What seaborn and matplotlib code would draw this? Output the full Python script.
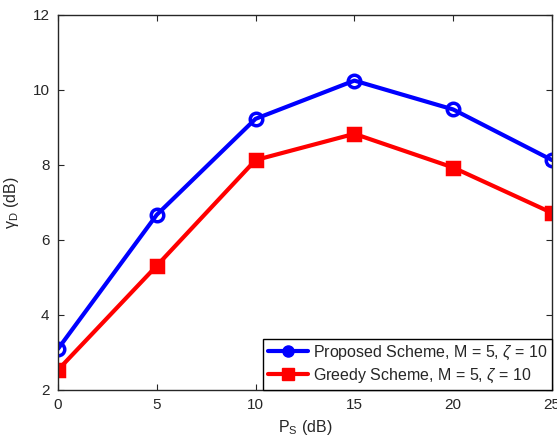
import pandas as pd
import matplotlib
matplotlib.use('Agg')
import matplotlib.pyplot as plt
import seaborn as sns
from matplotlib.lines import Line2D

# veriler
ps_db = [0, 5, 10, 15, 20, 25]
proposed = [3.09, 6.67, 9.23, 10.25, 9.48, 8.13]
greedy = [2.53, 5.31, 8.13, 8.83, 7.93, 6.72]
labels = ['Proposed Scheme, M = 5, $\\zeta$ = 10', 'Greedy Scheme, M = 5, $\\zeta$ = 10']
colors = ['#0000ff', '#ff0000']

df = pd.DataFrame({
    'Ps': ps_db * 2,
    'gamma': proposed + greedy,
    'scheme': [labels[0]] * len(ps_db) + [labels[1]] * len(ps_db),
})

sns.set_style('ticks')
plt.rcParams['font.family'] = ['Liberation Sans', 'DejaVu Sans']
plt.rcParams['mathtext.fontset'] = 'custom'
plt.rcParams['mathtext.rm'] = 'Liberation Sans'
plt.rcParams['mathtext.it'] = 'Liberation Sans:italic'

fig = plt.figure(figsize=(5.57, 4.41), dpi=100)
ax = fig.add_axes([0.104, 0.116, 0.887, 0.85])

sns.lineplot(data=df, x='Ps', y='gamma', hue='scheme', style='scheme',
             palette=colors, markers=['o', 's'], dashes=False,
             linewidth=3, markersize=9, ax=ax, legend=False)

# kenar renkleri (seaborn beyaz yapıyor)
for ln, c in zip(ax.lines, colors):
    ln.set_markeredgecolor(c)
    ln.set_markeredgewidth(2.5)
ax.lines[0].set_markerfacecolor('none')  # mavi daire içi boş

ax.set_xlim(0, 25)
ax.set_ylim(2, 12)
ax.set_xticks([0, 5, 10, 15, 20, 25])
ax.set_yticks([2, 4, 6, 8, 10, 12])
ax.tick_params(direction='in', top=True, right=True, labelsize=11, length=4, width=0.8, pad=6)
for s in ax.spines.values():
    s.set_linewidth(1.0)

ax.set_xlabel('P$_\\mathrm{S}$ (dB)', fontsize=11.5, labelpad=4)
ax.set_ylabel('γ$_\\mathrm{D}$ (dB)', fontsize=11.5, labelpad=8)

handles = [Line2D([], [], color=colors[0], marker='o', lw=3, markersize=8),
           Line2D([], [], color=colors[1], marker='s', lw=3, markersize=8)]
leg = ax.legend(handles, labels, loc='lower right', fontsize=11.5, frameon=True,
                fancybox=False, borderaxespad=0, handlelength=2.5, handletextpad=0.3,
                labelspacing=0.3, borderpad=0.3)
leg.get_frame().set_edgecolor('black')
leg.get_frame().set_linewidth(1.0)
leg.get_frame().set_alpha(1)

plt.savefig('out.png', dpi=100)
plt.close()
